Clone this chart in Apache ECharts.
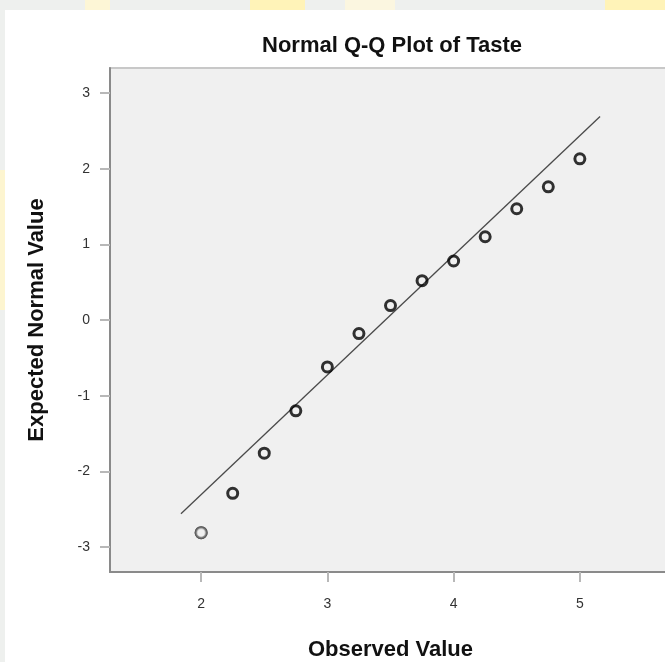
<!DOCTYPE html>
<html>
<head>
<meta charset="utf-8">
<script src="https://cdn.jsdelivr.net/npm/echarts@6/dist/echarts.min.js"></script>
<style>
  html, body { margin: 0; padding: 0; background: #eef0ee; }
  #chart { width: 665px; height: 662px; }
</style>
</head>
<body>
<div id="chart"></div>
<script>
// Observed taste scores and their expected normal quantiles
const observed = [2, 2.25, 2.5, 2.75, 3, 3.25, 3.5, 3.75, 4, 4.25, 4.5, 4.75, 5];
const expected = [-2.81, -2.29, -1.76, -1.20, -0.62, -0.18, 0.19, 0.52, 0.78, 1.10, 1.47, 1.76, 2.13];
// Reference normal line end points [observed, expected]
const lineStart = [1.84, -2.56];
const lineEnd = [5.16, 2.69];
// Tick values
const xTicks = [2, 3, 4, 5];
const yTicks = [-3, -2, -1, 0, 1, 2, 3];

const chart = echarts.init(document.getElementById('chart'), null, { renderer: 'canvas' });

const titleFont = '"Liberation Sans", Arial, sans-serif';
const labelFont = '"Liberation Sans", Arial, sans-serif';

const points = observed.map((x, i) => [x, expected[i]]);

chart.setOption({
  backgroundColor: '#eef0ee',
  animation: false,
  graphic: [
    // pale decorative band behind the white panel
    { type: 'rect', z: -10, shape: { x: 85, y: 0, width: 25, height: 12 }, style: { fill: '#fdf6d6' } },
    { type: 'rect', z: -10, shape: { x: 250, y: 0, width: 55, height: 12 }, style: { fill: '#fff3b8' } },
    { type: 'rect', z: -10, shape: { x: 345, y: 0, width: 50, height: 12 }, style: { fill: '#fbf6e0' } },
    { type: 'rect', z: -10, shape: { x: 605, y: 0, width: 60, height: 12 }, style: { fill: '#fff3b8' } },
    { type: 'rect', z: -10, shape: { x: 0, y: 170, width: 6, height: 140 }, style: { fill: '#fdf5d0' } },
    { type: 'rect', z: -5, shape: { x: 5, y: 10, width: 660, height: 652 }, style: { fill: '#ffffff' } },
    {
      type: 'text', x: 392, y: 46, z: 10,
      style: {
        text: 'Normal Q-Q Plot of Taste', font: 'bold 22px ' + titleFont, fill: '#111',
        align: 'center', verticalAlign: 'middle'
      }
    }
  ],
  grid: {
    left: 110, top: 68, right: -6, bottom: 90,
    outerBoundsMode: 'none',
    containLabel: false,
    show: true, backgroundColor: '#f0f0f0', borderColor: '#c8c8c8', borderWidth: 2
  },
  xAxis: {
    type: 'value', min: 1.278, max: 5.722,
    name: 'Observed Value', nameLocation: 'middle', nameGap: 67,
    nameTextStyle: { fontFamily: titleFont, fontWeight: 'bold', fontSize: 22, color: '#111' },
    axisLine: { show: true, onZero: false, lineStyle: { color: '#8a8a8a', width: 2 } },
    axisTick: { show: true, customValues: xTicks, length: 10, lineStyle: { color: '#b8b8b8', width: 2 } },
    axisLabel: { customValues: xTicks, margin: 25, fontFamily: labelFont, fontSize: 14, color: '#333' },
    splitLine: { show: false }
  },
  yAxis: {
    type: 'value', min: -3.33, max: 3.33,
    name: 'Expected Normal Value', nameLocation: 'middle', nameGap: 62,
    nameTextStyle: { fontFamily: titleFont, fontWeight: 'bold', fontSize: 22, color: '#111' },
    axisLine: { show: true, onZero: false, lineStyle: { color: '#8a8a8a', width: 2 } },
    axisTick: { show: true, customValues: yTicks, length: 10, lineStyle: { color: '#b8b8b8', width: 2 } },
    axisLabel: { customValues: yTicks, margin: 20, fontFamily: labelFont, fontSize: 14, color: '#333' },
    splitLine: { show: false }
  },
  series: [
    {
      type: 'line',
      data: [lineStart, lineEnd],
      symbol: 'none',
      lineStyle: { color: '#4a4a4a', width: 1.3 },
      z: 2
    },
    {
      type: 'scatter',
      data: points,
      symbol: 'circle',
      symbolSize: 10,
      itemStyle: { color: 'rgba(0,0,0,0)', borderColor: '#000', borderWidth: 3 },
      z: 3
    },
    {
      // lone lowest observation drawn with a lighter ring
      type: 'scatter',
      data: [points[0]],
      symbol: 'circle',
      symbolSize: 11,
      itemStyle: { color: '#f0f0f0', borderColor: '#666', borderWidth: 2 },
      z: 4
    }
  ]
});
</script>
</body>
</html>
